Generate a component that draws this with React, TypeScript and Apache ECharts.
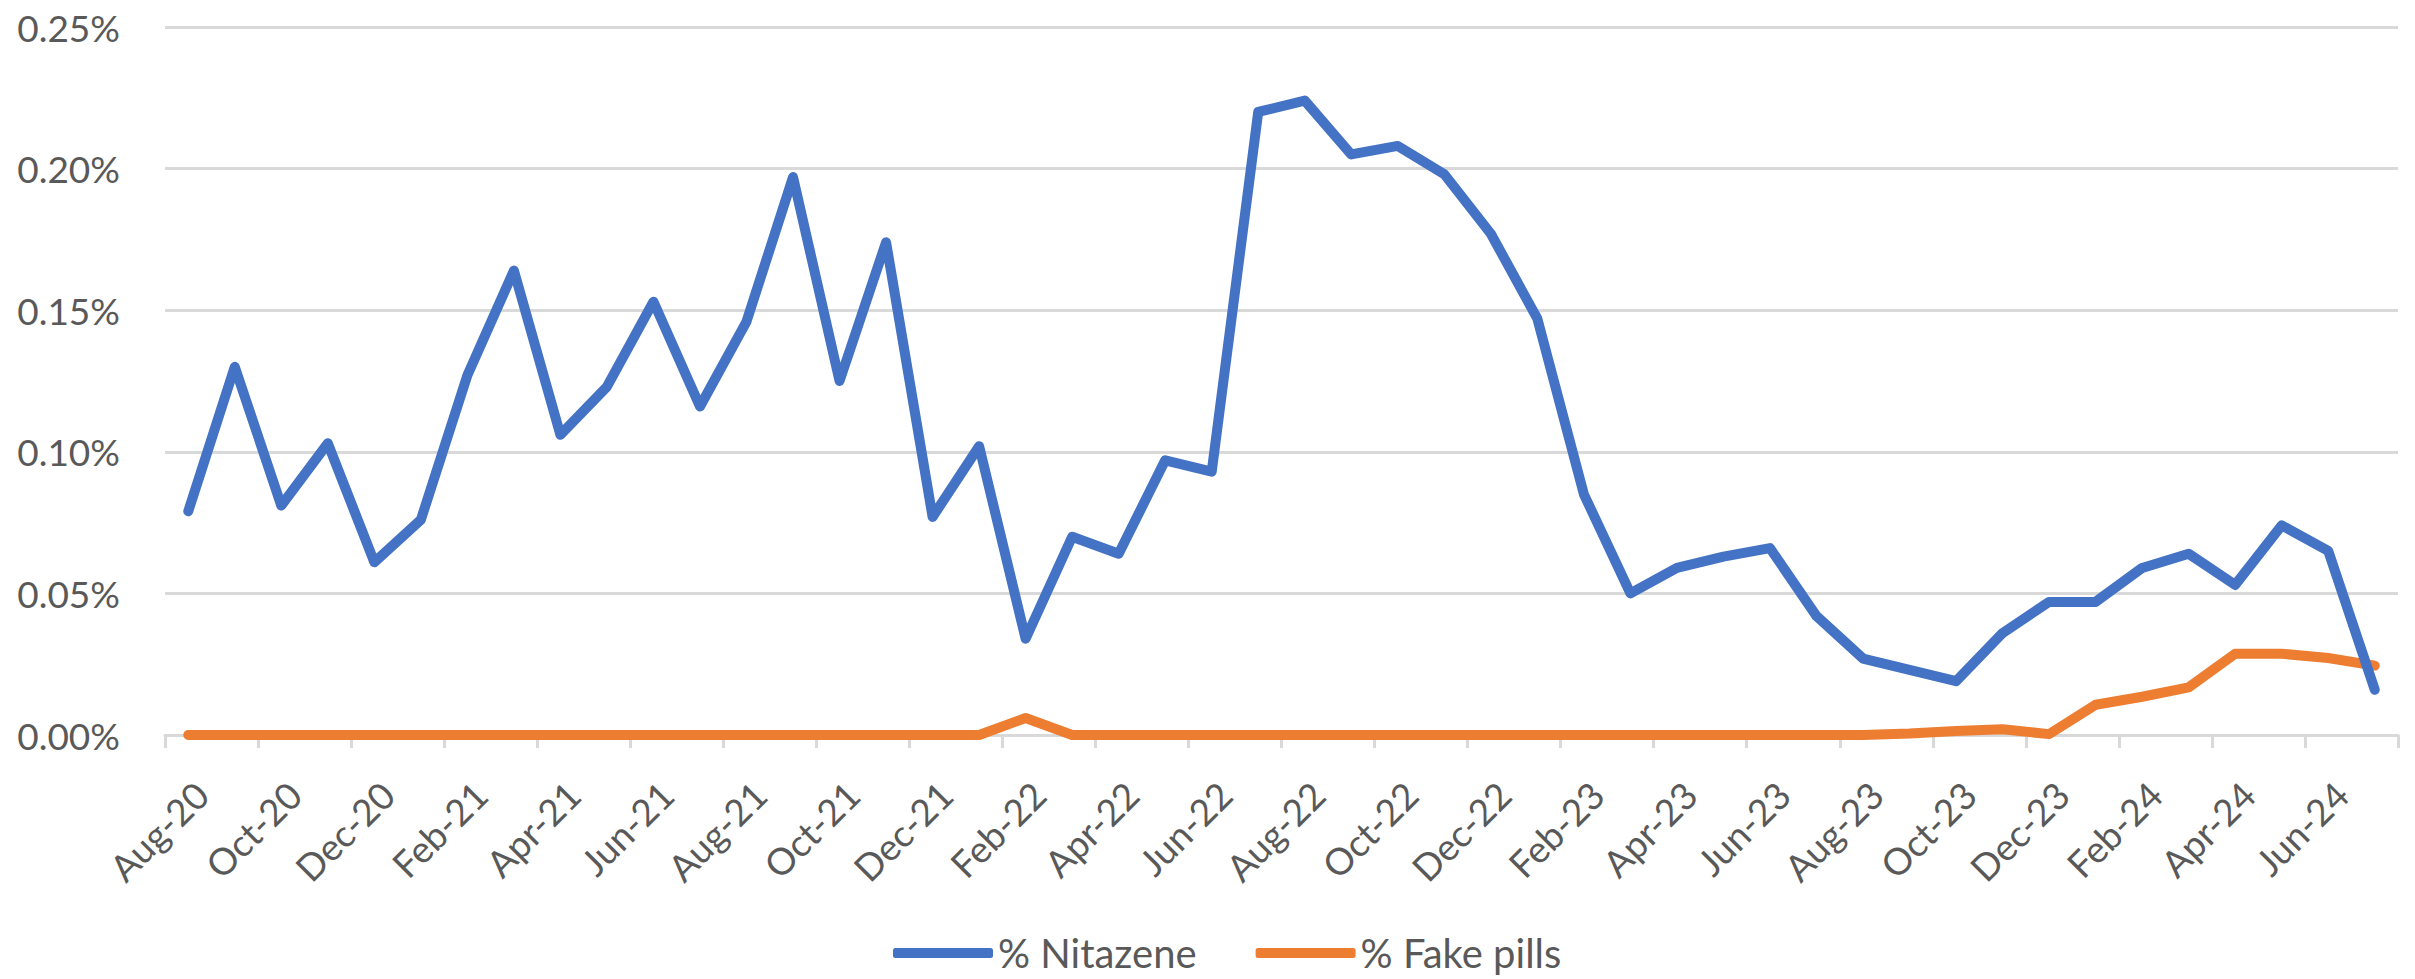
import React, { useEffect, useRef } from "react";
import * as echarts from "echarts";

const months = [
  "Aug-20", "Sep-20", "Oct-20", "Nov-20", "Dec-20", "Jan-21", "Feb-21", "Mar-21", "Apr-21", "May-21", "Jun-21", "Jul-21",
  "Aug-21", "Sep-21", "Oct-21", "Nov-21", "Dec-21", "Jan-22", "Feb-22", "Mar-22", "Apr-22", "May-22", "Jun-22", "Jul-22",
  "Aug-22", "Sep-22", "Oct-22", "Nov-22", "Dec-22", "Jan-23", "Feb-23", "Mar-23", "Apr-23", "May-23", "Jun-23", "Jul-23",
  "Aug-23", "Sep-23", "Oct-23", "Nov-23", "Dec-23", "Jan-24", "Feb-24", "Mar-24", "Apr-24", "May-24", "Jun-24", "Jul-24",
];

const nitazene = [
  0.079, 0.130, 0.081, 0.103, 0.061, 0.076, 0.127, 0.164, 0.106, 0.123, 0.153, 0.116,
  0.146, 0.197, 0.125, 0.174, 0.077, 0.102, 0.034, 0.070, 0.064, 0.097, 0.093, 0.220,
  0.224, 0.205, 0.208, 0.198, 0.177, 0.147, 0.085, 0.050, 0.059, 0.063, 0.066, 0.042,
  0.027, 0.023, 0.019, 0.036, 0.047, 0.047, 0.059, 0.064, 0.053, 0.074, 0.065, 0.016,
];

const fakePills = [
  0, 0, 0, 0, 0, 0, 0, 0, 0, 0, 0, 0,
  0, 0, 0, 0, 0, 0, 0.006, 0, 0, 0, 0, 0,
  0, 0, 0, 0, 0, 0, 0, 0, 0, 0, 0, 0,
  0, 0.0005, 0.0014, 0.002, 0.0003, 0.0107, 0.0135, 0.0168, 0.0287, 0.0287, 0.0272, 0.0245,
];

const seriesNames = ["% Nitazene", "% Fake pills"];
const colors = ["#4472C4", "#ED7D31"];

const FONT = "Lato, 'Open Sans', sans-serif";
const TEXT_COLOR = "#595959";
const GRID_COLOR = "#D9D9D9";

export default function App() {
  const ref = useRef<HTMLDivElement>(null);

  useEffect(() => {
    if (!ref.current) return;
    const chart = echarts.init(ref.current, undefined, { renderer: "svg" });
    chart.setOption({
      animation: false,
      backgroundColor: "#FFFFFF",
      textStyle: { fontFamily: FONT },
      grid: {
        left: 165,
        right: 17,
        top: 27,
        bottom: 244,
        containLabel: false,
        outerBoundsMode: "none",
      },
      legend: {
        data: seriesNames,
        left: 893,
        top: 930,
        padding: 0,
        icon: "roundRect",
        itemWidth: 100,
        itemHeight: 10,
        itemGap: 59,
        textStyle: { fontFamily: FONT, fontSize: 40, color: TEXT_COLOR, lineHeight: 46 },
      },
      xAxis: {
        type: "category",
        data: months,
        boundaryGap: true,
        axisLine: { show: true, lineStyle: { color: GRID_COLOR, width: 3 } },
        axisTick: { show: true, interval: 1, length: 13, lineStyle: { color: GRID_COLOR, width: 3 } },
        axisLabel: {
          interval: 1,
          rotate: 45,
          margin: 40,
          verticalAlign: "top",
          fontFamily: FONT,
          fontSize: 37,
          color: TEXT_COLOR,
        },
        splitLine: { show: false },
      },
      yAxis: {
        type: "value",
        min: 0,
        max: 0.25,
        interval: 0.05,
        axisLine: { show: false },
        axisTick: { show: false },
        axisLabel: {
          margin: 45,
          fontFamily: FONT,
          fontSize: 37,
          color: TEXT_COLOR,
          formatter: (v: number) => v.toFixed(2) + "%",
        },
        splitLine: { show: true, lineStyle: { color: GRID_COLOR, width: 3 } },
      },
      series: [
        {
          name: seriesNames[0],
          type: "line",
          data: nitazene,
          showSymbol: false,
          symbol: "none",
          color: colors[0],
          lineStyle: { color: colors[0], width: 10, cap: "round", join: "round" },
          z: 3,
        },
        {
          name: seriesNames[1],
          type: "line",
          data: fakePills,
          showSymbol: false,
          symbol: "none",
          color: colors[1],
          lineStyle: { color: colors[1], width: 10, cap: "round", join: "round" },
          z: 2,
        },
      ],
    });
    return () => chart.dispose();
  }, []);

  return (
    <div
      ref={ref}
      style={{ position: "absolute", left: 0, top: 0, width: 2415, height: 979, background: "#fff" }}
    />
  );
}
